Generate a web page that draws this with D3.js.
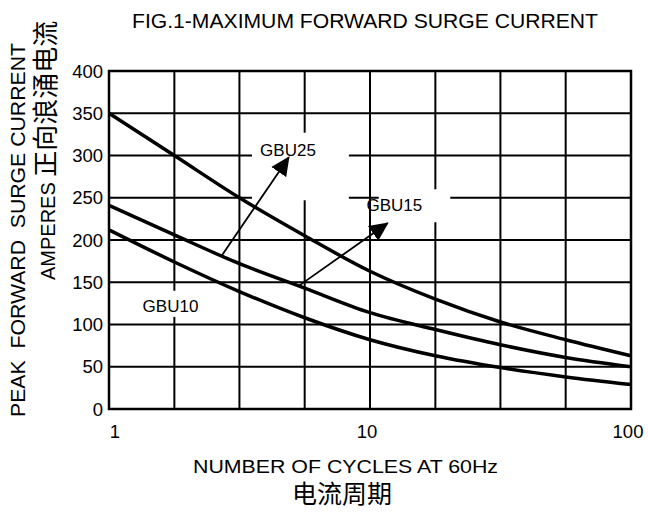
<!DOCTYPE html>
<html>
<head>
    <title></title>
    <meta charset="utf-8" />
    <script src="https://cdn.jsdelivr.net/npm/d3@7"></script>
    <style>
        body { margin: 0; background: #fff; }
        text { font-family: "Liberation Sans", Arial, sans-serif; fill: #000; }
        .cjk { font-family: "Noto Sans CJK SC", sans-serif; }
        .grid { stroke: #000; stroke-width: 2; }
        .curve { fill: none; stroke: #000; stroke-width: 3.5; }
        .arrow { stroke: #000; stroke-width: 1.8; }
    </style>
</head>
<body>
    <script>
        // cycles at 60Hz (grid columns, 4 per decade)
        var cycles = [1, 1.78, 3.16, 5.62, 10, 17.8, 31.6, 56.2, 100];
        // peak forward surge current, amperes
        var gbu25 = [350, 300, 250, 205, 163, 130, 103, 82, 63];
        var gbu15 = [241, 206, 172, 143, 114, 94, 76, 61, 50];
        var gbu10 = [212, 174, 139, 108, 82, 63, 49, 38, 29];
        var yTicks = [0, 50, 100, 150, 200, 250, 300, 350, 400];
        var xTicks = [1, 10, 100];

        // labels: text, label position, arrow from -> to, white box (data units)
        var labels = ['GBU25', 'GBU15', 'GBU10'];
        var labelAt = [[4.85, 300], [12.4, 234], [1.72, 115]];
        var arrowFrom = [[2.71, 182], [5.35, 146], null];
        var arrowTo = [[4.89, 298], [11.7, 220], null];
        var boxes = [[3.53, 8.3, 247, 327], [10.8, 20.3, 221, 260], [1.31, 2.3, 109, 140]];

        var svg = d3.select('body').append('svg').attr('width', 648).attr('height', 514);

        var x = d3.scaleLog().domain([1, 100]).range([109, 631]);
        var y = d3.scaleLinear().domain([0, 400]).range([409, 71]);

        // grid
        svg.selectAll('.vgrid').data(cycles).enter().append('line')
            .attr('class', 'grid')
            .attr('x1', function (d) { return x(d); }).attr('x2', function (d) { return x(d); })
            .attr('y1', y(0)).attr('y2', y(400));
        svg.selectAll('.hgrid').data(yTicks).enter().append('line')
            .attr('class', 'grid')
            .attr('x1', x(1)).attr('x2', x(100))
            .attr('y1', function (d) { return y(d); }).attr('y2', function (d) { return y(d); });

        // white boxes behind the labels
        svg.selectAll('.box').data(boxes).enter().append('rect')
            .attr('fill', '#fff')
            .attr('x', function (d) { return x(d[0]); })
            .attr('width', function (d) { return x(d[1]) - x(d[0]); })
            .attr('y', function (d) { return y(d[3]); })
            .attr('height', function (d) { return y(d[2]) - y(d[3]); });

        svg.append('rect')
            .attr('x', x(1)).attr('y', y(400))
            .attr('width', x(100) - x(1)).attr('height', y(0) - y(400))
            .attr('fill', 'none').attr('stroke', '#000').attr('stroke-width', 2.5);

        // curves
        var line = d3.line()
            .x(function (d, i) { return x(cycles[i]); })
            .y(function (d) { return y(d); })
            .curve(d3.curveMonotoneX);
        [gbu25, gbu15, gbu10].forEach(function (s) {
            svg.append('path').attr('class', 'curve').attr('d', line(s));
        });

        // arrows
        svg.append('defs').append('marker')
            .attr('id', 'head')
            .attr('markerUnits', 'userSpaceOnUse')
            .attr('viewBox', '0 -10 20 20')
            .attr('markerWidth', 20).attr('markerHeight', 20)
            .attr('refX', 18).attr('refY', 0)
            .attr('orient', 'auto')
            .append('path').attr('d', 'M0,-9L19,0L0,9Z').attr('fill', '#000');

        labels.forEach(function (t, i) {
            if (arrowFrom[i]) {
                svg.append('line').attr('class', 'arrow')
                    .attr('x1', x(arrowFrom[i][0])).attr('y1', y(arrowFrom[i][1]))
                    .attr('x2', x(arrowTo[i][0])).attr('y2', y(arrowTo[i][1]))
                    .attr('marker-end', 'url(#head)');
            }
            svg.append('text')
                .attr('x', x(labelAt[i][0])).attr('y', y(labelAt[i][1]))
                .attr('text-anchor', 'middle')
                .style('font-size', '17px')
                .text(t);
        });

        // tick labels
        svg.selectAll('.ytick').data(yTicks).enter().append('text')
            .attr('x', 103)
            .attr('y', function (d) { return y(d); })
            .attr('dy', '0.36em')
            .attr('text-anchor', 'end')
            .style('font-size', '18.5px')
            .text(function (d) { return d; });
        svg.selectAll('.xtick').data(xTicks).enter().append('text')
            .attr('x', function (d) { return x(d) + (d === 1 ? 6 : -3); })
            .attr('y', 438)
            .attr('text-anchor', 'middle')
            .style('font-size', '18.5px')
            .text(function (d) { return d; });

        // titles
        svg.append('text')
            .attr('x', 132).attr('y', 27.5)
            .attr('textLength', 466).attr('lengthAdjust', 'spacingAndGlyphs')
            .style('font-size', '19.5px')
            .text('FIG.1-MAXIMUM FORWARD SURGE CURRENT');

        svg.append('text')
            .attr('x', 193).attr('y', 473)
            .attr('textLength', 305).attr('lengthAdjust', 'spacingAndGlyphs')
            .style('font-size', '18.5px')
            .text('NUMBER OF CYCLES AT 60Hz');
        svg.append('text')
            .attr('class', 'cjk')
            .attr('x', 342).attr('y', 503)
            .attr('text-anchor', 'middle')
            .style('font-size', '25px')
            .text('电流周期');

        svg.append('text')
            .attr('transform', 'translate(25,417) rotate(-90)')
            .attr('textLength', 374).attr('lengthAdjust', 'spacingAndGlyphs')
            .style('font-size', '20px')
            .style('white-space', 'pre')
            .text('PEAK  FORWARD  SURGE CURRENT');

        var yl2 = svg.append('text')
            .attr('transform', 'translate(55,280) rotate(-90)')
            .style('font-size', '20px');
        yl2.append('tspan').text('AMPERES ');
        yl2.append('tspan').attr('class', 'cjk').style('font-size', '26px').text('正向浪涌电流');
    </script>
</body>
</html>
